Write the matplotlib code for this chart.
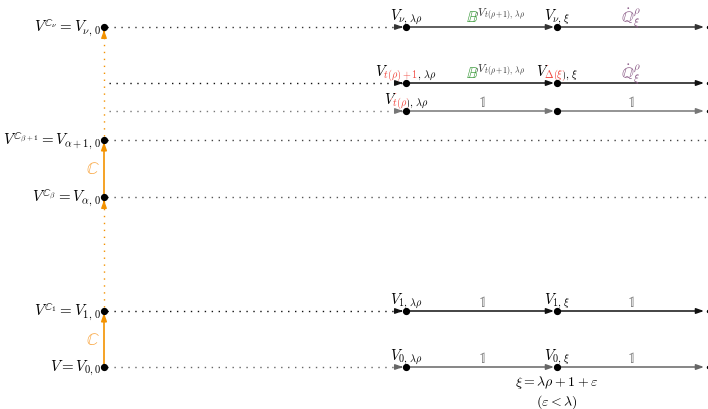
import matplotlib
matplotlib.use("Agg")
import matplotlib.pyplot as plt
from matplotlib.patches import Rectangle

plt.rcParams["mathtext.fontset"] = "cm"

ORANGE = "#F39200"
RED = "#F0443C"
GREEN = "#3C9A3C"
PURPLE = "#8A5A86"

# rows of the diagram (top to bottom)
row_names = ["nu", "tp1", "tp", "a1", "a", "one", "zero"]
row_y = [28, 84, 112, 141, 198, 312, 368]
has_left_node = [True, False, False, True, True, True, True]
has_right_nodes = [True, True, True, False, False, True, True]
row_color = ["#333333", "#111111", "#777777", "#444444", "#555555", "#111111", "#666666"]

left_labels = {
    "nu": r"$V^{\mathbb{C}_\nu} = V_{\nu,\,0}$",
    "a1": r"$V^{\mathbb{C}_{\beta+1}} = V_{\alpha+1,\,0}$",
    "a": r"$V^{\mathbb{C}_\beta} = V_{\alpha,\,0}$",
    "one": r"$V^{\mathbb{C}_1} = V_{1,\,0}$",
    "zero": r"$V = V_{0,0}$",
}

# labels as consecutive pieces of one mathtext string, each with its colour
node_a_labels = {
    "nu": [(r"V_{\nu,\,\lambda\rho}", "k")],
    "tp1": [(r"V", "k"), (r"_{t(\rho)+1", RED), (r",\,\lambda\rho}", "k")],
    "tp": [(r"V", "k"), (r"_{t(\rho)", RED), (r",\,\lambda\rho}", "k")],
    "one": [(r"V_{1,\,\lambda\rho}", "k")],
    "zero": [(r"V_{0,\,\lambda\rho}", "k")],
}
node_b_labels = {
    "nu": [(r"V_{\nu,\,\xi}", "k")],
    "tp1": [(r"V", "k"), (r"_{\Delta(\xi)", RED), (r",\,\xi}", "k")],
    "tp": [],
    "one": [(r"V_{1,\,\xi}", "k")],
    "zero": [(r"V_{0,\,\xi}", "k")],
}
edge1_labels = {
    "nu": [(r"\mathbb{B}", GREEN), (r"^{V_{t(\rho+1),\,\lambda\rho}}", "#333333")],
    "tp1": [(r"\mathbb{B}", GREEN), (r"^{V_{t(\rho+1),\,\lambda\rho}}", "#333333")],
    "tp": [(r"\mathbb{1}", "#666666")],
    "one": [(r"\mathbb{1}", "#666666")],
    "zero": [(r"\mathbb{1}", "#666666")],
}
edge2_labels = {
    "nu": [(r"\dot{\mathbb{Q}}_\xi^\rho", PURPLE)],
    "tp1": [(r"\dot{\mathbb{Q}}_\xi^\rho", PURPLE)],
    "tp": [(r"\mathbb{1}", "#666666")],
    "one": [(r"\mathbb{1}", "#666666")],
    "zero": [(r"\mathbb{1}", "#666666")],
}
caption = [r"$\xi = \lambda\rho + 1 + \varepsilon$", r"$(\varepsilon < \lambda)$"]

X_LEFT, X_A, X_B, X_END = 104, 406, 557, 704

fig = plt.figure(figsize=(7.08, 4.10), dpi=100)
ax = fig.add_axes([0, 0, 1, 1])
ax.set_xlim(0, 708)
ax.set_ylim(410, 0)
ax.axis("off")
renderer = fig.canvas.get_renderer()


def width_of(s, fs):
    t = ax.text(0, 0, s, fontsize=fs)
    w = t.get_window_extent(renderer).width
    t.remove()
    return w


def close_braces(s):
    return s + "}" * (s.count("{") - s.count("}"))


def clipped_text(x0, y, s, fs, color, va, rect):
    t = ax.text(x0, y, s, fontsize=fs, color=color, ha="left", va=va)
    t.set_clip_path(Rectangle(rect[:2], rect[2], rect[3], transform=ax.transData))
    t.set_clip_on(True)


def pieces_text(x, y, pieces, fs=10.5, va="baseline"):
    """One mathtext string drawn once per colour, each copy clipped to its piece."""
    if not pieces:
        return
    full = "$" + "".join(p for p, _ in pieces) + "$"
    total = width_of(full, fs)
    x0 = x - total / 2
    if len(pieces) == 1:
        ax.text(x0, y, full, fontsize=fs, color=pieces[0][1], ha="left", va=va)
        return
    # boundaries: (x cut, step) -- a subscript starts under the italic letter
    bounds = [(-20.0, 0.0)]
    prefix = ""
    for i, (p, _) in enumerate(pieces[:-1]):
        prefix += p
        cut = width_of("$" + close_braces(prefix) + "$", fs) - 2
        step = 3.5 if pieces[i + 1][0].startswith("_") else 0.0
        bounds.append((cut, step))
    bounds.append((total + 20, 0.0))
    top, bot, mid = y - 40, y + 40, y - 5
    for (p, c), (a, sa), (b, sb) in zip(pieces, bounds[:-1], bounds[1:]):
        xa, xb = x0 + a, x0 + b
        clipped_text(x0, y, full, fs, c, va, (xa, top, xb - xa, mid - top))
        clipped_text(x0, y, full, fs, c, va,
                     (xa - sa, mid, (xb - sb) - (xa - sa), bot - mid))


def arrow(x0, y0, x1, y1, color, lw=1.0):
    ax.annotate("", xy=(x1, y1), xytext=(x0, y0),
                arrowprops=dict(arrowstyle="-|>,head_length=0.45,head_width=0.16",
                                color=color, lw=lw, shrinkA=0, shrinkB=0))


def dotted_arrow(x0, y0, x1, y1, color, lw=1.0, head=True):
    ax.plot([x0, x1], [y0, y1], color=color, lw=lw, linestyle=(0, (1, 4)))
    if head:
        dx, dy = x1 - x0, y1 - y0
        n = (dx ** 2 + dy ** 2) ** 0.5
        arrow(x1 - 2 * dx / n, y1 - 2 * dy / n, x1, y1, color, lw)


for name, y, node, right, col in zip(row_names, row_y, has_left_node,
                                     has_right_nodes, row_color):
    start = X_LEFT + 3 if node else X_LEFT + 5
    if node:
        ax.plot([X_LEFT], [y], "o", color="k", ms=4.2, zorder=5)
    if not right:
        dotted_arrow(start, y, 706, y, col, head=False)
    else:
        dotted_arrow(start, y, X_A - 3, y, col)
        arrow(X_A, y, X_B - 3, y, col, 1.1)
        arrow(X_B, y, X_END, y, col, 1.1)
        ax.plot([707.5], [y], "o", color="k", ms=1.5)
        ax.plot([X_A, X_B], [y, y], "o", color="k", ms=4.2, zorder=5)
    if name in left_labels:
        ax.text(X_LEFT - 3, y, left_labels[name], fontsize=10.8, ha="right", va="center")
    if name in node_a_labels:
        pieces_text(X_A, y - 8, node_a_labels[name])
        pieces_text(X_B, y - 8, node_b_labels[name])
        plain = name in ("tp", "one", "zero")
        fs_edge = 11 if plain else 11.5
        pieces_text((X_A + X_B) / 2 + (0 if plain else 14), y - 5,
                    edge1_labels[name], fs=fs_edge)
        pieces_text((X_B + X_END) / 2, y - 5, edge2_labels[name], fs=fs_edge)

# vertical orange arrows on the left column
y_nu, y_a1, y_a, y_one, y_zero = 28, 141, 198, 312, 368
arrow(X_LEFT, y_zero - 3, X_LEFT, y_one + 2, ORANGE, 1.2)
arrow(X_LEFT, y_a - 3, X_LEFT, y_a1 + 2, ORANGE, 1.2)
dotted_arrow(X_LEFT, y_one - 4, X_LEFT, y_a + 3, ORANGE, 1.0)
dotted_arrow(X_LEFT, y_a1 - 4, X_LEFT, y_nu + 3, ORANGE, 1.0)
for yc in ((y_zero + y_one) / 2, (y_a + y_a1) / 2):
    ax.text(X_LEFT - 4, yc, r"$\mathbb{C}$", color="#F9A33A",
            fontsize=12, ha="right", va="center")

ax.text(X_B, 383, caption[0], fontsize=10, ha="center", va="center")
ax.text(X_B, 402, caption[1], fontsize=10, ha="center", va="center")

fig.savefig("out.png", dpi=100)
